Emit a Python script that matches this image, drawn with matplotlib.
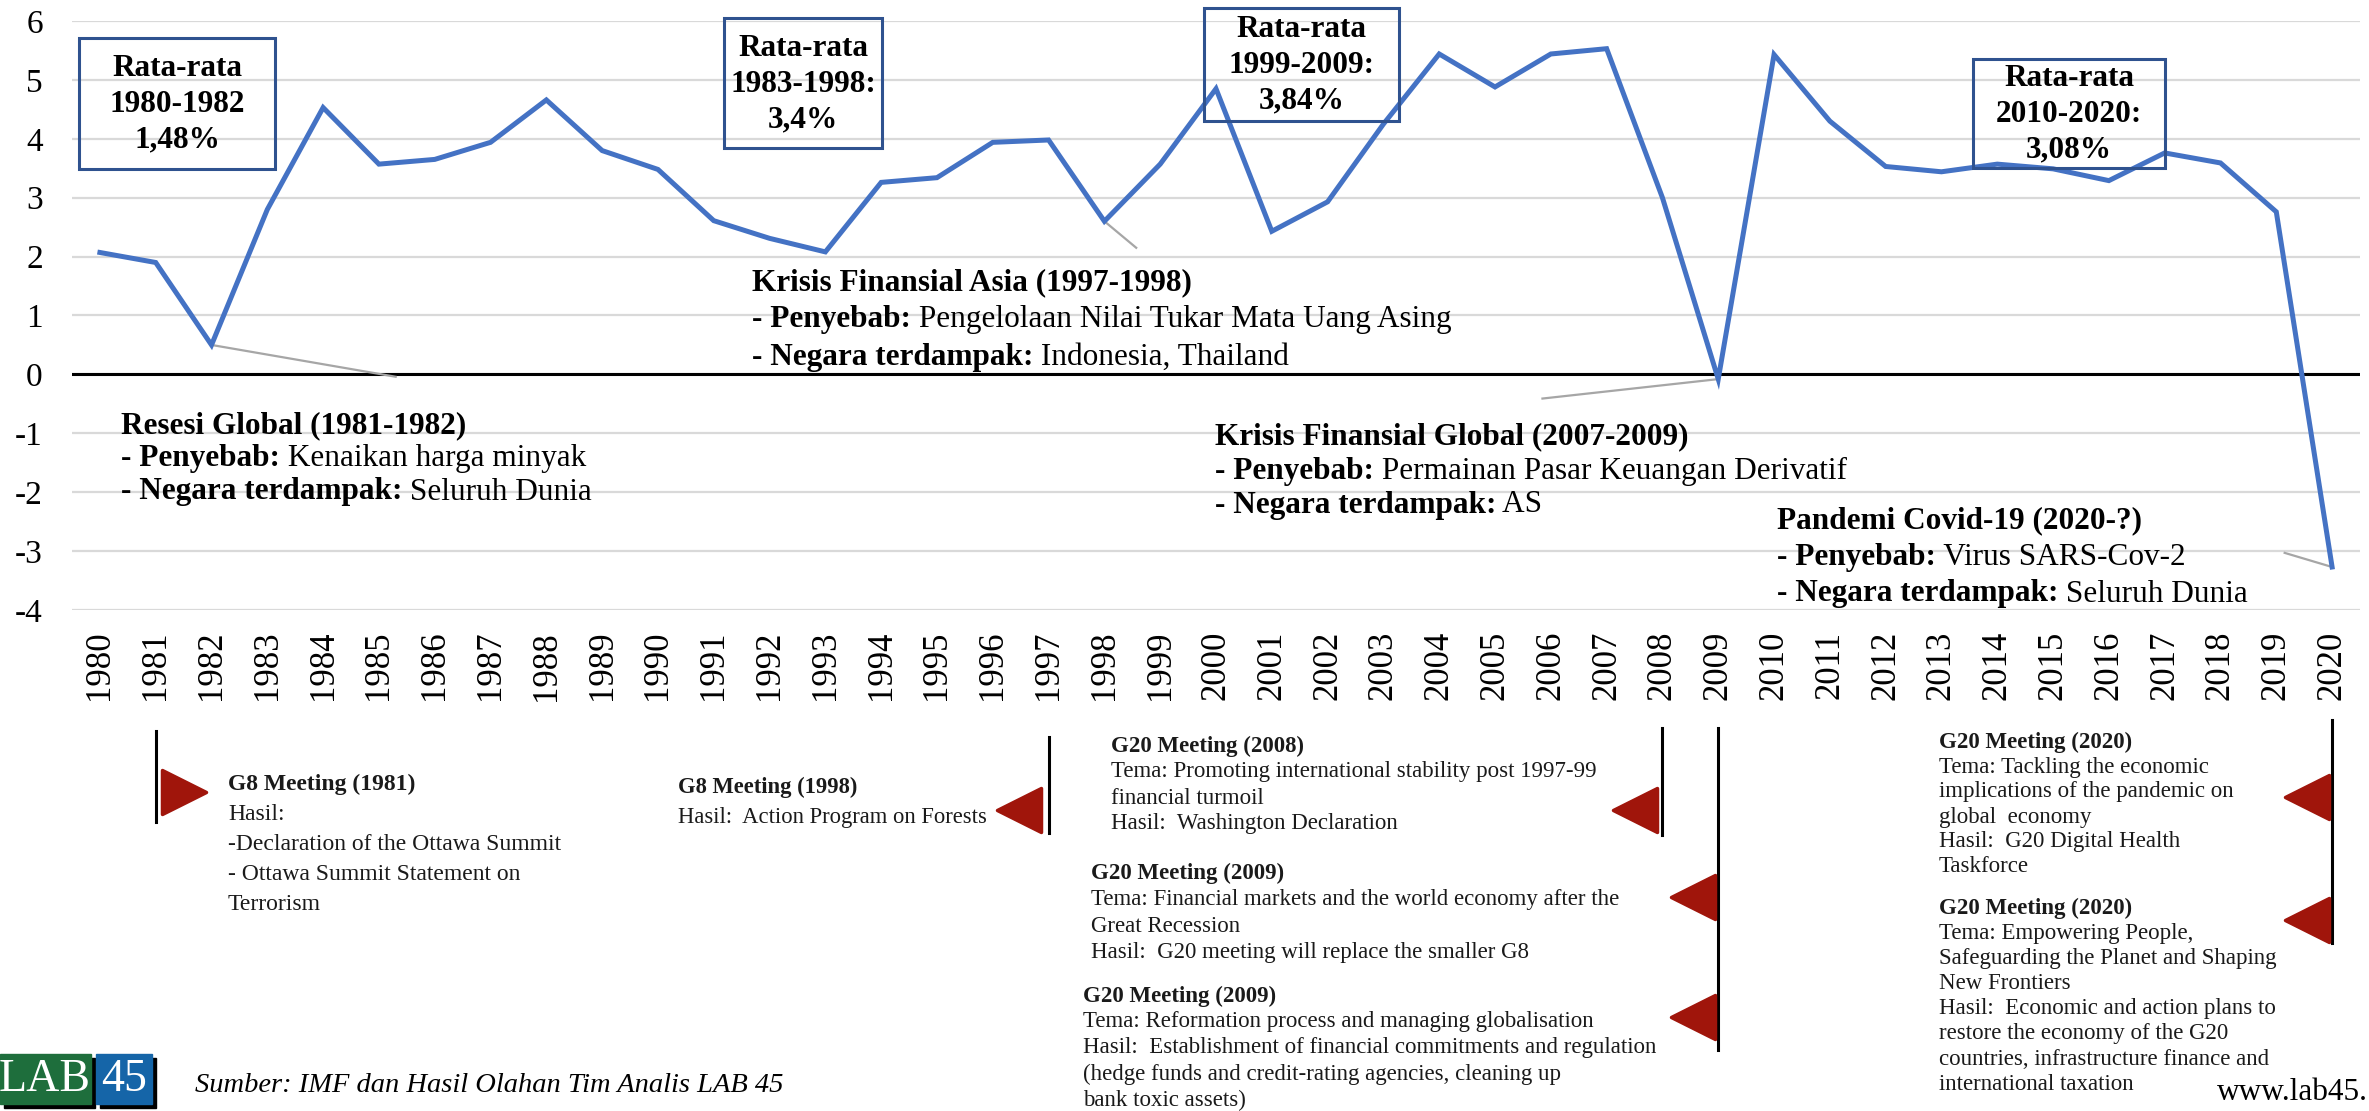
import matplotlib
matplotlib.use("Agg")
import matplotlib.pyplot as plt
from matplotlib.markers import MarkerStyle
from matplotlib.patches import Rectangle

plt.rcParams["font.family"] = ["Liberation Serif", "DejaVu Serif"]
plt.rcParams["axes.unicode_minus"] = False

# world GDP growth (%), IMF
years = list(range(1980, 2021))
growth = [2.07, 1.90, 0.50, 2.80, 4.53, 3.57, 3.65, 3.94, 4.66, 3.80,
          3.48, 2.61, 2.31, 2.08, 3.26, 3.34, 3.94, 3.98, 2.60, 3.57,
          4.85, 2.43, 2.93, 4.25, 5.44, 4.88, 5.44, 5.53, 3.00, -0.08,
          5.43, 4.30, 3.53, 3.44, 3.57, 3.49, 3.29, 3.76, 3.59, 2.76,
          -3.27]
y_ticks = list(range(-4, 7))

avg_labels = ["Rata-rata\n1980-1982\n1,48%",
              "Rata-rata\n1983-1998:\n3,4%",
              "Rata-rata\n1999-2009:\n3,84%",
              "Rata-rata\n2010-2020:\n3,08%"]

crisis_titles = ["Resesi Global (1981-1982)",
                 "Krisis Finansial Asia (1997-1998)",
                 "Krisis Finansial Global (2007-2009)",
                 "Pandemi Covid-19 (2020-?)"]
crisis_causes = ["Kenaikan harga minyak",
                 "Pengelolaan Nilai Tukar Mata Uang Asing",
                 "Permainan Pasar Keuangan Derivatif",
                 "Virus SARS-Cov-2"]
crisis_countries = ["Seluruh Dunia", "Indonesia, Thailand", "AS", "Seluruh Dunia"]
crisis_years = [1982, 1998, 2009, 2020]

meeting_line_years = [1981, 1997, 2008, 2009, 2020]
meeting_titles = ["G8 Meeting (1981)", "G8 Meeting (1998)", "G20 Meeting (2008)",
                  "G20 Meeting (2009)", "G20 Meeting (2009)",
                  "G20 Meeting (2020)", "G20 Meeting (2020)"]
meeting_bodies = [
    ["Hasil:", "-Declaration of the Ottawa Summit",
     "- Ottawa Summit Statement on", "Terrorism"],
    ["Hasil:  Action Program on Forests"],
    ["Tema: Promoting international stability post 1997-99",
     "financial turmoil", "Hasil:  Washington Declaration"],
    ["Tema: Financial markets and the world economy after the",
     "Great Recession", "Hasil:  G20 meeting will replace the smaller G8"],
    ["Tema: Reformation process and managing globalisation",
     "Hasil:  Establishment of financial commitments and regulation",
     "(hedge funds and credit-rating agencies, cleaning up",
     "bank toxic assets)"],
    ["Tema: Tackling the economic", "implications of the pandemic on",
     "global  economy", "Hasil:  G20 Digital Health", "Taskforce"],
    ["Tema: Empowering People,", "Safeguarding the Planet and Shaping",
     "New Frontiers", "Hasil:  Economic and action plans to",
     "restore the economy of the G20", "countries, infrastructure finance and",
     "international taxation"],
]

W, H = 2369, 1111
fig = plt.figure(figsize=(W / 100, H / 100), dpi=100)


def fx(px):
    return px / W


def fy(py):
    return 1 - py / H


ax = fig.add_axes([fx(72), fy(610), 2288 / W, 589 / H])
ax.plot(years, growth, color="#4472C4", lw=3.6, solid_joinstyle="miter", zorder=3)
ax.set_xlim(1979.5, 2020.5)
ax.set_ylim(-4, 6)
ax.set_yticks(y_ticks)
ax.set_xticks(years)
ax.set_xticklabels([str(y) for y in years], rotation=90, fontsize=25)
ax.tick_params(axis="y", length=0, pad=21, labelsize=24)
ax.tick_params(axis="x", length=0, pad=15)
ax.grid(axis="y", color="#D9D9D9", lw=1.6)
ax.axhline(0, color="black", lw=2.2, zorder=2)
for s in ax.spines.values():
    s.set_visible(False)

# average boxes
avg_boxes = [(79, 38, 275, 169), (724, 18, 882, 148),
             (1204, 8, 1399, 121), (1973, 59, 2165, 168)]
for label, (x0, y0, x1, y1) in zip(avg_labels, avg_boxes):
    fig.add_artist(Rectangle((fx(x0), fy(y1)), (x1 - x0) / W, (y1 - y0) / H,
                             transform=fig.transFigure, fill=False,
                             ec="#2F528F", lw=2.2, zorder=5))
    fig.text(fx((x0 + x1) / 2), fy((y0 + y1) / 2 + 1), label, ha="center",
             va="center", fontsize=22.5, fontweight="bold", linespacing=1.3)

# leader lines from crisis points to their notes
leader_ends = [(1985.3, -0.04), (1998.57, 2.15), (2005.85, -0.41), (2019.15, -3.03)]
for yr, (ex, ey) in zip(crisis_years, leader_ends):
    ax.plot([yr, ex], [growth[years.index(yr)], ey], color="#A6A6A6",
            lw=1.6, zorder=2)

renderer = fig.canvas.get_renderer()


def mixed(x, y, bold, regular, size):
    t = fig.text(fx(x), fy(y), bold, fontsize=size, fontweight="bold",
                 va="center", ha="left")
    bb = t.get_window_extent(renderer=renderer)
    fig.text(bb.x1 / W, fy(y), regular, fontsize=size, va="center", ha="left")


crisis_pos = [(121, 426, 33), (752, 283, 37), (1215, 437, 34), (1777, 521, 36.5)]
for title, cause, country, (x, y, dy) in zip(crisis_titles, crisis_causes,
                                             crisis_countries, crisis_pos):
    fig.text(fx(x), fy(y), title, fontsize=22.5, fontweight="bold",
             va="center", ha="left")
    mixed(x, y + dy, "- Penyebab:", " " + cause, 22.5)
    mixed(x, y + 2 * dy, "- Negara terdampak:", " " + country, 22.5)

# meeting timeline below the axis
ax2 = fig.add_axes([fx(72), 0, 2288 / W, (H - 700) / H])
ax2.set_xlim(1979.5, 2020.5)
ax2.set_ylim(H, 700)
ax2.axis("off")

line_spans = [(731, 822), (737, 833), (728, 835), (728, 1050), (720, 943)]
for yr, (y0, y1) in zip(meeting_line_years, line_spans):
    ax2.plot([yr, yr], [y0, y1], color="black", lw=2.2)

red = "#A0150B"
tri = [(1981.5, 792, ">"), (1996.47, 810, "<"), (2007.5, 810, "<"),
       (2008.55, 897, "<"), (2008.55, 1017, "<"),
       (2019.55, 797, "<"), (2019.55, 920, "<")]
for x, y, m in tri:
    ax2.plot([x], [y], marker=MarkerStyle(m, joinstyle="round"), ms=32,
             color=red, mec=red, mew=2.5, linestyle="none")

block_pos = [(228, 784, 30, 17), (678, 787, 30, 16.3), (1111, 746, 26, 16.5),
             (1091, 873, 26.5, 16.5), (1083, 996, 26, 16.5),
             (1939, 742, 25, 16.5), (1939, 908, 25.2, 16.5)]
for title, body, (x, y, dy, fs) in zip(meeting_titles, meeting_bodies, block_pos):
    fig.text(fx(x), fy(y), title, fontsize=fs, fontweight="bold",
             va="center", ha="left", color="#1A1A1A")
    for i, line in enumerate(body):
        fig.text(fx(x), fy(y + (i + 1) * dy), line, fontsize=fs,
                 va="center", ha="left", color="#1A1A1A")

# logo and source
for (x0, x1), c in [((0, 91), "#1E6E3C"), ((96, 152), "#1565A8")]:
    fig.add_artist(Rectangle((fx(x0 + 4), fy(1108)), (x1 - x0) / W, 50 / H,
                             transform=fig.transFigure, color="black"))
    fig.add_artist(Rectangle((fx(x0), fy(1104)), (x1 - x0) / W, 50 / H,
                             transform=fig.transFigure, color=c))
fig.text(fx(45), fy(1080), "LAB", color="white", fontsize=33,
         ha="center", va="center")
fig.text(fx(124), fy(1080), "45", color="white", fontsize=33,
         ha="center", va="center")
fig.text(fx(195), fy(1086), "Sumber: IMF dan Hasil Olahan Tim Analis LAB 45",
         fontsize=20.5, style="italic", ha="left", va="center")
fig.text(fx(2368), fy(1092), "www.lab45.", fontsize=22.5, ha="right",
         va="center")

fig.savefig("out.png", dpi=100)
